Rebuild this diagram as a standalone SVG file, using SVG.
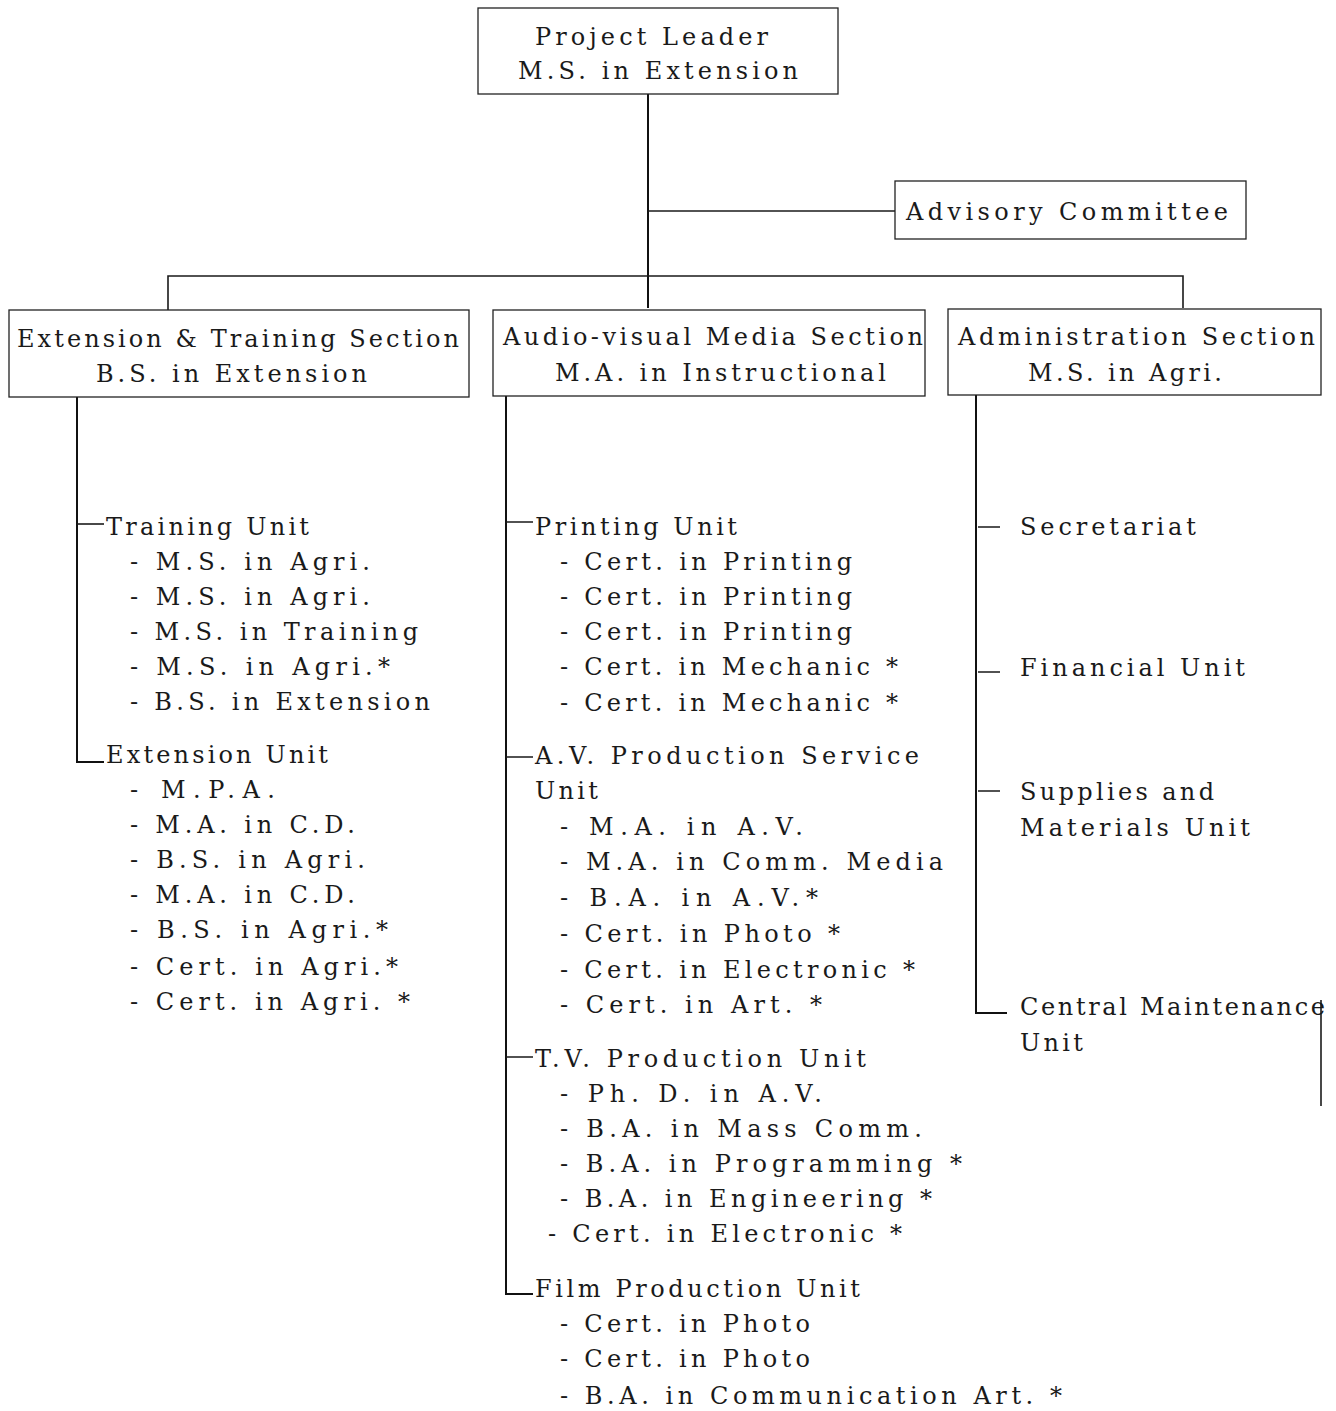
<svg xmlns="http://www.w3.org/2000/svg" width="1336" height="1411" viewBox="0 0 1336 1411">
<style>
text{font-family:"DejaVu Serif","Liberation Serif",serif;font-size:24px;fill:#1a1a1a}
.box{fill:none;stroke:#222;stroke-width:1.3}
.ln{fill:none;stroke:#1a1a1a;stroke-width:1.6}
.tk{fill:none;stroke:#111;stroke-width:2}
</style>
<rect width="1336" height="1411" fill="#fff"/>
<g id="connectors">
<path class="tk" d="M648 94V308"/>
<path class="ln" d="M648 211H895"/>
<path class="ln" d="M168 310V276H1183V308"/>
<path class="tk" d="M77 397V762H104"/>
<path class="ln" d="M77 524H104"/>
<path class="tk" d="M506 396V1294H533"/>
<path class="ln" d="M506 522H533M506 757H533M506 1057H533"/>
<path class="tk" d="M976 395V1013H1007"/>
<path class="ln" d="M978 527H1000M978 672H1000M978 791H1000"/>
<path class="ln" d="M1321 1000V1106" stroke-width="1.2"/>
</g>
<g id="project-leader">
<rect class="box" x="478" y="8" width="360" height="86"/>
<text x="535" y="45" textLength="233" lengthAdjust="spacing">Project Leader</text>
<text x="518" y="79" textLength="280" lengthAdjust="spacing">M.S. in Extension</text>
</g>
<g id="advisory-committee">
<rect class="box" x="895" y="181" width="351" height="58"/>
<text x="906" y="220" textLength="322" lengthAdjust="spacing">Advisory Committee</text>
</g>
<g id="extension-training-section">
<rect class="box" x="9" y="310" width="460" height="87"/>
<text x="17" y="347" textLength="442" lengthAdjust="spacing">Extension &amp; Training Section</text>
<text x="96" y="382" textLength="271" lengthAdjust="spacing">B.S. in Extension</text>
</g>
<g id="audio-visual-section">
<rect class="box" x="493" y="310" width="432" height="86"/>
<text x="503" y="345" textLength="420" lengthAdjust="spacing">Audio-visual Media Section</text>
<text x="555" y="381" textLength="331" lengthAdjust="spacing">M.A. in Instructional</text>
</g>
<g id="administration-section">
<rect class="box" x="948" y="309" width="373" height="86"/>
<text x="958" y="345" textLength="357" lengthAdjust="spacing">Administration Section</text>
<text x="1028" y="381" textLength="194" lengthAdjust="spacing">M.S. in Agri.</text>
</g>
<g id="training-unit">
<text x="106" y="535" textLength="203" lengthAdjust="spacing">Training Unit</text>
<text x="130" y="570" textLength="240" lengthAdjust="spacing">- M.S. in Agri.</text>
<text x="130" y="605" textLength="240" lengthAdjust="spacing">- M.S. in Agri.</text>
<text x="130" y="640" textLength="288" lengthAdjust="spacing">- M.S. in Training</text>
<text x="130" y="675" textLength="260" lengthAdjust="spacing">- M.S. in Agri.*</text>
<text x="130" y="710" textLength="300" lengthAdjust="spacing">- B.S. in Extension</text>
</g>
<g id="extension-unit">
<text x="106" y="763" textLength="222" lengthAdjust="spacing">Extension Unit</text>
<text x="130" y="798" textLength="145" lengthAdjust="spacing">- M.P.A.</text>
<text x="130" y="833" textLength="225" lengthAdjust="spacing">- M.A. in C.D.</text>
<text x="130" y="868" textLength="235" lengthAdjust="spacing">- B.S. in Agri.</text>
<text x="130" y="903" textLength="225" lengthAdjust="spacing">- M.A. in C.D.</text>
<text x="130" y="938" textLength="258" lengthAdjust="spacing">- B.S. in Agri.*</text>
<text x="130" y="975" textLength="268" lengthAdjust="spacing">- Cert. in Agri.*</text>
<text x="130" y="1010" textLength="280" lengthAdjust="spacing">- Cert. in Agri. *</text>
</g>
<g id="printing-unit">
<text x="535" y="535" textLength="202" lengthAdjust="spacing">Printing Unit</text>
<text x="560" y="570" textLength="292" lengthAdjust="spacing">- Cert. in Printing</text>
<text x="560" y="605" textLength="292" lengthAdjust="spacing">- Cert. in Printing</text>
<text x="560" y="640" textLength="292" lengthAdjust="spacing">- Cert. in Printing</text>
<text x="560" y="675" textLength="338" lengthAdjust="spacing">- Cert. in Mechanic *</text>
<text x="560" y="711" textLength="338" lengthAdjust="spacing">- Cert. in Mechanic *</text>
</g>
<g id="av-production-unit">
<text x="535" y="764" textLength="384" lengthAdjust="spacing">A.V. Production Service</text>
<text x="535" y="799" textLength="63" lengthAdjust="spacing">Unit</text>
<text x="560" y="835" textLength="243" lengthAdjust="spacing">- M.A. in A.V.</text>
<text x="560" y="870" textLength="383" lengthAdjust="spacing">- M.A. in Comm. Media</text>
<text x="560" y="906" textLength="258" lengthAdjust="spacing">- B.A. in A.V.*</text>
<text x="560" y="942" textLength="280" lengthAdjust="spacing">- Cert. in Photo *</text>
<text x="560" y="978" textLength="355" lengthAdjust="spacing">- Cert. in Electronic *</text>
<text x="560" y="1013" textLength="262" lengthAdjust="spacing">- Cert. in Art. *</text>
</g>
<g id="tv-production-unit">
<text x="535" y="1067" textLength="331" lengthAdjust="spacing">T.V. Production Unit</text>
<text x="560" y="1102" textLength="262" lengthAdjust="spacing">- Ph. D. in A.V.</text>
<text x="560" y="1137" textLength="362" lengthAdjust="spacing">- B.A. in Mass Comm.</text>
<text x="560" y="1172" textLength="402" lengthAdjust="spacing">- B.A. in Programming *</text>
<text x="560" y="1207" textLength="372" lengthAdjust="spacing">- B.A. in Engineering *</text>
<text x="548" y="1242" textLength="354" lengthAdjust="spacing">- Cert. in Electronic *</text>
</g>
<g id="film-production-unit">
<text x="535" y="1297" textLength="325" lengthAdjust="spacing">Film Production Unit</text>
<text x="560" y="1332" textLength="250" lengthAdjust="spacing">- Cert. in Photo</text>
<text x="560" y="1367" textLength="250" lengthAdjust="spacing">- Cert. in Photo</text>
<text x="560" y="1404" textLength="502" lengthAdjust="spacing">- B.A. in Communication Art. *</text>
</g>
<g id="secretariat">
<text x="1020" y="535" textLength="176" lengthAdjust="spacing">Secretariat</text>
</g>
<g id="financial-unit">
<text x="1020" y="676" textLength="225" lengthAdjust="spacing">Financial Unit</text>
</g>
<g id="supplies-materials-unit">
<text x="1020" y="800" textLength="194" lengthAdjust="spacing">Supplies and</text>
<text x="1020" y="836" textLength="230" lengthAdjust="spacing">Materials Unit</text>
</g>
<g id="central-maintenance-unit">
<text x="1020" y="1015" textLength="305" lengthAdjust="spacing">Central Maintenance</text>
<text x="1020" y="1051" textLength="63" lengthAdjust="spacing">Unit</text>
</g>
</svg>
